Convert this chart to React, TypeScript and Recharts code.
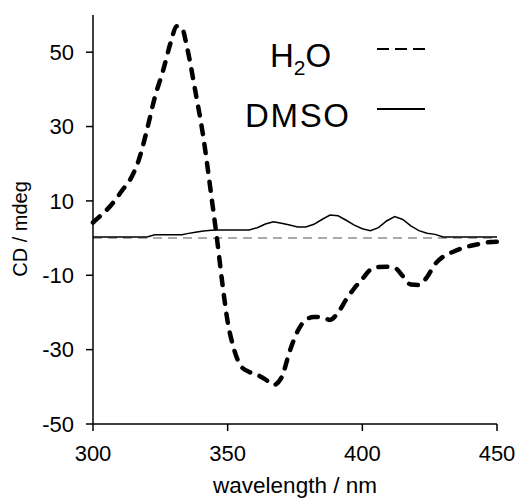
import { Label, Line, LineChart, ReferenceLine, XAxis, YAxis } from "recharts";

const wavelengths = [
  300, 302, 305, 308, 311, 314, 317, 320, 323, 326, 329, 331, 333, 335, 338, 341, 344, 346,
  348, 350, 352, 355, 358, 361, 364, 367, 370, 373, 376, 379, 382, 385, 388, 391, 394, 397,
  400, 403, 406, 409, 412, 415, 418, 421, 424, 427, 430, 434, 438, 442, 446, 450
];

const h2o = [
  4.2, 5.5, 7.5, 10, 13, 16, 21, 29, 38, 45, 53, 57, 56.5, 51, 39.5, 27, 11, 0,
  -12, -22.5, -29, -34.5, -36, -36.8, -38, -39.5, -37.5, -30.5, -25, -22, -21.2, -21.3, -22, -20,
  -16.5, -13.5, -11, -8.5, -7.8, -7.7, -8, -10.2, -12.5, -12.6, -10.5, -7, -5, -3.6, -2.5, -1.8,
  -1.2, -1
];

const dmso = [
  0.3, 0.3, 0.3, 0.3, 0.3, 0.3, 0.3, 0.3, 0.9, 0.9, 0.9, 0.9, 0.9, 1.2, 1.6, 1.9, 2.1, 2.2,
  2.2, 2.2, 2.2, 2.2, 2.2, 2.8, 3.8, 4.4, 4.0, 3.5, 3.0, 3.0, 3.7, 5.0, 6.2, 6.0, 4.8, 3.5,
  2.5, 2.0, 2.8, 4.6, 5.8, 5.0, 3.3, 2.0, 1.3, 1.0, 0.3, 0.3, 0.3, 0.3, 0.3, 0.3
];

const xTicks = [300, 350, 400, 450];
const yTicks = [-50, -30, -10, 10, 30, 50];

const data = wavelengths.map((w, i) => ({ w, h2o: h2o[i], dmso: dmso[i] }));

const font = "'Liberation Sans', Arial, Helvetica, sans-serif";

function LegendOverlay() {
  return (
    <svg
      width={520}
      height={140}
      style={{ position: "absolute", left: 0, top: 0, pointerEvents: "none" }}
    >
      <text x={270} y={67} fontFamily={font} fontSize={33} fill="#000">
        H<tspan fontSize={21} dy={8}>2</tspan>
        <tspan dy={-8}>O</tspan>
      </text>
      <line x1={377} x2={425} y1={49} y2={49} stroke="#000" strokeWidth={2} strokeDasharray="12 6" />
      <text x={245} y={127} fontFamily={font} fontSize={33} fill="#000" textLength={104}>
        DMSO
      </text>
      <line x1={377} x2={425} y1={109} y2={109} stroke="#000" strokeWidth={2} />
    </svg>
  );
}

export default function App() {
  return (
    <div style={{ position: "absolute", left: 0, top: 0, width: 520, height: 500, background: "#fff" }}>
      <LineChart
        width={520}
        height={500}
        data={data}
        margin={{ top: 15, right: 23, bottom: 0, left: 0 }}
      >
        <XAxis
          dataKey="w"
          type="number"
          domain={[300, 450]}
          ticks={xTicks}
          tickSize={7}
          tickMargin={14}
          height={76}
          stroke="#000"
          strokeWidth={1.5}
          tick={{ fill: "#000", fontSize: 22, fontFamily: font }}
        >
          <Label
            value="wavelength / nm"
            position="insideBottom"
            offset={7}
            style={{ fill: "#000", fontSize: 22.5, fontFamily: font }}
          />
        </XAxis>
        <YAxis
          type="number"
          domain={[-50, 60]}
          ticks={yTicks}
          width={93}
          tickSize={7}
          tickMargin={12}
          stroke="#000"
          strokeWidth={1.5}
          tick={{ fill: "#000", fontSize: 22, fontFamily: font }}
        >
          <Label
            content={() => (
              <text
                x={27}
                y={229}
                transform="rotate(-90 27 229)"
                textAnchor="middle"
                fontFamily={font}
                fontSize={20}
                fill="#000"
              >
                CD / mdeg
              </text>
            )}
          />
        </YAxis>
        <ReferenceLine y={0} stroke="#aaa" strokeWidth={2} strokeDasharray="9 6" />
        <Line
          type="linear"
          dataKey="dmso"
          stroke="#000"
          strokeWidth={1.5}
          dot={false}
          isAnimationActive={false}
        />
        <Line
          type="monotone"
          dataKey="h2o"
          stroke="#000"
          strokeWidth={4.5}
          strokeDasharray="9 10"
          strokeLinecap="round"
          dot={false}
          isAnimationActive={false}
        />
      </LineChart>
      <LegendOverlay />
    </div>
  );
}
